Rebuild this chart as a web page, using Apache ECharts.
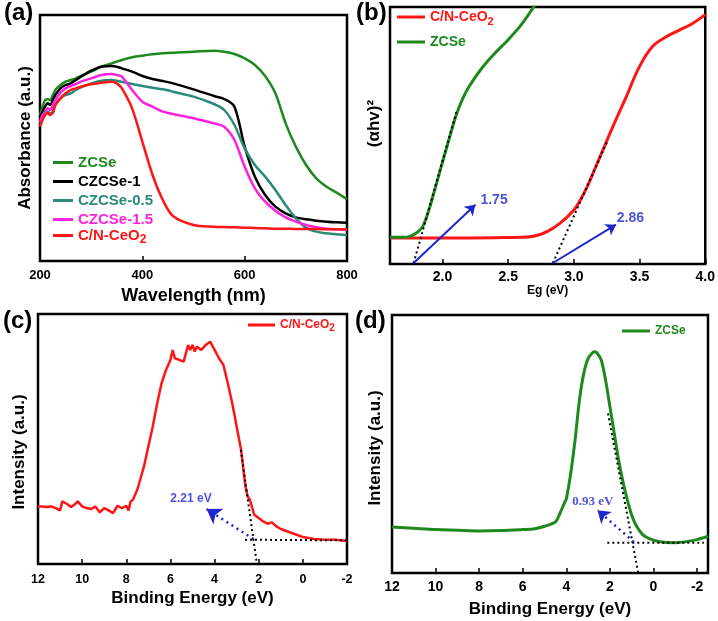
<!DOCTYPE html>
<html><head><meta charset="utf-8">
<script src="https://cdn.jsdelivr.net/npm/echarts@6/dist/echarts.min.js"></script>
<style>html,body{margin:0;padding:0;background:#fff}#c{width:718px;height:621px}</style>
</head><body><div id="c"></div>
<script>
// ---------- (a) UV-vis absorbance ----------
const wavelength = [200,205,210,215,220,225,230,240,250,260,270,280,300,320,340,350,360,380,400,420,440,460,500,540,560,580,600,620,640,660,680,700,720,740,760,780,800];
const absZCSe   = [438,463,483,485,483,498,513,528,538,543,548,555,568,583,593,598,603,611,616,620,623,625,628,631,628,621,608,588,555,503,413,343,288,248,223,205,185];
const absCZCSe1 = [428,448,463,473,468,483,498,518,528,533,543,553,571,583,585,583,578,568,555,546,540,533,515,495,486,463,343,253,198,163,143,131,125,121,118,116,115];
const absCZCSe05= [413,428,438,448,443,443,468,488,498,503,513,521,533,541,543,541,538,531,525,520,515,508,493,471,453,408,338,288,253,213,168,128,100,88,83,80,78];
const absCZCSe15= [418,438,448,458,453,468,483,505,518,525,531,538,548,558,561,558,553,513,478,463,448,441,428,413,403,363,283,218,178,151,131,118,108,101,97,95,93];
const absCeO2   = [403,423,438,443,438,448,468,488,503,513,518,523,530,535,538,533,518,458,358,258,183,135,108,103,102,101,100,99,98,97,97,96,96,96,95,95,95];

// ---------- (b) Tauc plot ----------
const egZCSe = [1.6,1.7,1.75,1.8,1.85,1.9,1.95,2.0,2.05,2.1,2.15,2.2,2.3,2.4,2.5,2.6,2.7];
const taucZCSe = [80,80,83,93,113,167,236,306,375,442,493,531,588,633,673,718,775];
const egCeO2 = [1.6,2.0,2.4,2.6,2.7,2.8,2.9,3.0,3.05,3.1,3.2,3.3,3.4,3.5,3.6,3.7,3.8,3.9,4.0];
const taucCeO2 = [78,78,79,80,84,98,124,162,193,231,323,415,503,593,653,681,701,721,748];
const egTicks = [2.0,2.5,3.0,3.5,4.0];
const tangentB1 = [[1.78,3],[2.11,463]];
const tangentB2 = [[2.84,3],[3.26,373]];
const arrowB1 = [[1.78,3],[2.25,178]];
const arrowB2 = [[2.84,3],[3.32,118]];
const labelB = [[2.392,193,'1.75'],[3.43,138,'2.86']];

// ---------- (c) VB-XPS C/N-CeO2 ----------
const beCeO2 = [12,11.8,11.6,11.4,11.2,11.0,10.9,10.7,10.5,10.3,10.2,10.0,9.8,9.6,9.4,9.2,9.0,8.8,8.6,8.4,8.2,8.0,7.9,7.8,7.7,7.5,7.2,7.0,6.8,6.6,6.4,6.2,6.0,5.9,5.8,5.6,5.4,5.3,5.2,5.1,5.0,4.9,4.8,4.6,4.4,4.2,4.0,3.8,3.6,3.4,3.2,3.0,2.8,2.6,2.5,2.4,2.2,2.0,1.8,1.6,1.4,1.2,1.0,0.5,0,-0.5,-1,-1.5,-2];
const intCeO2 = [173,173,171,173,168,161,188,181,171,181,188,173,168,165,173,155,168,161,153,175,168,175,161,188,193,223,293,353,413,483,543,583,613,643,618,613,608,633,658,643,658,638,653,643,658,668,643,618,598,543,483,413,343,233,203,193,148,138,128,121,125,113,105,93,81,75,73,73,69];
const tangentC1 = [[2.81,343],[2.09,3]];
const tangentC2 = [[2.62,73],[-2,71]];
const arrowC = [[2.24,75],[4.36,165]];
const labelC = [[5.07,197,'2.21 eV']];

// ---------- (d) VB-XPS ZCSe ----------
const beZCSe = [12,11,10,9,8,7,6,5.5,5.0,4.5,4.3,4.1,4.0,3.8,3.6,3.4,3.2,3.0,2.8,2.7,2.6,2.4,2.2,2.0,1.8,1.6,1.4,1.2,1.0,0.8,0.6,0.4,0,-0.5,-1,-1.5,-2,-2.5];
const intZCSe = [138,134,130,128,126,127,130,132,140,153,178,208,223,298,398,518,598,643,660,663,660,638,578,498,418,338,273,218,173,143,123,110,98,92,91,94,100,110];
const beTicksD = [12,10,8,6,4,2,0,-2];
const tangentD1 = [[2.09,478],[0.70,0]];
const tangentD2 = [[2.12,91],[-2.31,91]];
const arrowD = [[0.90,93],[2.57,188]];
const labelD = [[2.79,213,'0.93 eV']];

const FF = '"Liberation Sans", Arial, Helvetica, sans-serif';
const SERIF = '"Liberation Serif", "Times New Roman", serif';
const GREEN='#1e8a1e', BLACK='#000000', TEAL='#2a8a78', PINK='#ff22dd', RED='#ff1515', BLUE='#1f26d0';

const pairs = (xs, ys) => xs.map((x,i)=>[x, ys[i]]);

const grid = [
  {left:40, top:15, width:307, height:246},
  {left:390, top:7, width:317, height:257},
  {left:38, top:314, width:309, height:250},
  {left:392, top:315, width:316, height:258}
].map(g=>Object.assign({show:true, borderColor:'#000', borderWidth:2.5}, g));

function xAx(gi, o, fs, margin, name, nameFs, nameGap){
  return Object.assign({
    gridIndex:gi, type:'value',
    axisLine:{show:false},
    axisTick:{show:true, inside:true, length:5, lineStyle:{color:'#000', width:1.5}},
    axisLabel:{margin:margin, fontSize:fs, fontWeight:'bold', color:'#000', fontFamily:FF},
    splitLine:{show:false},
    name:name, nameLocation:'middle', nameGap:nameGap,
    nameTextStyle:{fontSize:nameFs, fontWeight:'bold', color:'#000', fontFamily:FF}
  }, o);
}
function yAx(gi, max, name, nameFs, nameGap, pad){
  return {gridIndex:gi, type:'value', min:0, max:max,
    axisLine:{show:false}, axisTick:{show:false}, axisLabel:{show:false}, splitLine:{show:false},
    name:name, nameLocation:'middle', nameGap:nameGap,
    nameTextStyle:{fontSize:nameFs, fontWeight:'bold', color:'#000', fontFamily:FF, padding:pad}};
}

const xAxis = [
  xAx(0,{min:200,max:800,interval:200}, 13, 8, 'Wavelength (nm)', 18, 26),
  xAx(1,{min:1.6,max:4.0, axisLabel:{margin:6,fontSize:14,fontWeight:'bold',color:'#000',fontFamily:FF,customValues:egTicks,formatter:v=>v.toFixed(1)}, axisTick:{show:true,inside:true,length:5,lineStyle:{color:'#000',width:1.5},customValues:egTicks}}, 14, 6, 'Eg (eV)', 12, 20),
  xAx(2,{min:-2,max:12,interval:2,inverse:true}, 12.5, 9, 'Binding Energy (eV)', 17, 26),
  xAx(3,{min:-2.5,max:12,inverse:true, axisLabel:{margin:7,fontSize:14,fontWeight:'bold',color:'#000',fontFamily:FF,customValues:beTicksD}, axisTick:{show:true,inside:true,length:5,lineStyle:{color:'#000',width:1.5},customValues:beTicksD}}, 14, 7, 'Binding Energy (eV)', 17, 28)
];
const yAxis = [
  yAx(0, 738, 'Absorbance (a.u.)', 17, 6, [0,0,0,0]),
  yAx(1, 771, '(αhv)²', 17, 7, [0,0,0,24]),
  yAx(2, 751, 'Intensity (a.u.)', 17, 10, [0,26,0,0]),
  yAx(3, 773, 'Intensity (a.u.)', 17, 8, [0,8,0,0])
];

function line(name, gi, data, color, w, smooth){
  return {type:'line', name:name, xAxisIndex:gi, yAxisIndex:gi, data:data, showSymbol:false, symbol:'none',
    smooth:smooth, clip:true, lineStyle:{color:color, width:w}, itemStyle:{color:color}, z:3, animation:false};
}
function dotted(gi, data){
  return {type:'line', xAxisIndex:gi, yAxisIndex:gi, data:data, symbol:'none', showSymbol:false, clip:true,
    lineStyle:{color:'#000', width:2, type:[2,3]}, z:4, animation:false, silent:true};
}
function arrow(gi, coords, width, dashed, size){
  return {type:'lines', coordinateSystem:'cartesian2d', xAxisIndex:gi, yAxisIndex:gi,
    data:[{coords:coords}], symbol:['none','arrow'], symbolSize:size,
    lineStyle:{color:BLUE, width:width, type:dashed?[2,4]:'solid', opacity:1}, z:5, animation:false, silent:true};
}
function labels(gi, arr, fs, family){
  return {type:'scatter', xAxisIndex:gi, yAxisIndex:gi, data:arr.map(a=>[a[0],a[1]]), symbolSize:1,
    itemStyle:{color:'transparent'}, silent:true, animation:false, z:6,
    label:{show:true, position:'inside', formatter:p=>arr[p.dataIndex][2], color:BLUE, fontSize:fs, fontWeight:'bold', fontFamily:family}};
}

const series = [
  line('ZCSe',0,pairs(wavelength,absZCSe),GREEN,2.5,0.3),
  line('CZCSe-1',0,pairs(wavelength,absCZCSe1),BLACK,2.5,0.3),
  line('CZCSe-0.5',0,pairs(wavelength,absCZCSe05),TEAL,2.5,0.3),
  line('CZCSe-1.5',0,pairs(wavelength,absCZCSe15),PINK,2.5,0.3),
  line('C/N-CeO2',0,pairs(wavelength,absCeO2),RED,2.5,0.3),
  line('C/N-CeO2',1,pairs(egCeO2,taucCeO2),RED,3,0.4),
  line('ZCSe',1,pairs(egZCSe,taucZCSe),GREEN,3,0.3),
  dotted(1,tangentB1), dotted(1,tangentB2),
  arrow(1,arrowB1,2,false,10), arrow(1,arrowB2,2,false,10),
  labels(1,labelB,14,FF),
  line('C/N-CeO2',2,pairs(beCeO2,intCeO2),RED,2.5,false),
  dotted(2,tangentC1), dotted(2,tangentC2),
  arrow(2,arrowC,2.5,true,14),
  labels(2,labelC,12,FF),
  line('ZCSe',3,pairs(beZCSe,intZCSe),GREEN,3,0.3),
  dotted(3,tangentD1), dotted(3,tangentD2),
  arrow(3,arrowD,2.5,true,12),
  labels(3,labelD,13,SERIF)
];

function leg(name, color, left, centerY, fs, iw){
  const hasSub = name.indexOf('CeO2')>=0;
  const L = Math.round(fs*1.4);
  return {data:[name], left:left, top:centerY - (hasSub ? Math.round(L/2) : Math.round(fs*0.6)), icon:'rect', itemWidth:iw, itemHeight:3,
    padding:0, selectedMode:false, orient:'horizontal',
    formatter:n=>hasSub ? '{m|' + n.replace('CeO2','CeO') + '}{s|2}' : n,
    textStyle:{color:color, fontSize:fs, fontWeight:'bold', fontFamily:FF,
      rich:{
        m:{color:color, fontSize:fs, fontWeight:'bold', fontFamily:FF, lineHeight:L, verticalAlign:'middle'},
        s:{color:color, fontSize:Math.round(fs*0.8), fontWeight:'bold', fontFamily:FF, lineHeight:Math.round(fs*0.8), verticalAlign:'bottom'}
      }}};
}
const legend = [
  leg('ZCSe', GREEN, 53, 164, 15, 20),
  leg('CZCSe-1', BLACK, 53, 183, 15, 20),
  leg('CZCSe-0.5', TEAL, 53, 202, 15, 20),
  leg('CZCSe-1.5', PINK, 53, 221, 15, 20),
  leg('C/N-CeO2', RED, 53, 239, 15, 20),
  leg('C/N-CeO2', RED, 397, 20, 14, 28),
  leg('ZCSe', GREEN, 397, 43, 14, 28),
  leg('C/N-CeO2', RED, 248, 328, 12, 27),
  leg('ZCSe', GREEN, 622, 332, 12, 28)
];

const tstyle = {fontSize:24, fontWeight:'bold', color:'#000', fontFamily:FF};
const title = [
  {text:'(a)', left:4, top:1, padding:0, textStyle:tstyle},
  {text:'(b)', left:356, top:1, padding:0, textStyle:tstyle},
  {text:'(c)', left:3, top:309, padding:0, textStyle:tstyle},
  {text:'(d)', left:355, top:309, padding:0, textStyle:tstyle}
];

const chart = echarts.init(document.getElementById('c'), null, {renderer:'canvas'});
chart.setOption({backgroundColor:'#fff', animation:false, title, legend, grid, xAxis, yAxis, series});
</script>
</body></html>
